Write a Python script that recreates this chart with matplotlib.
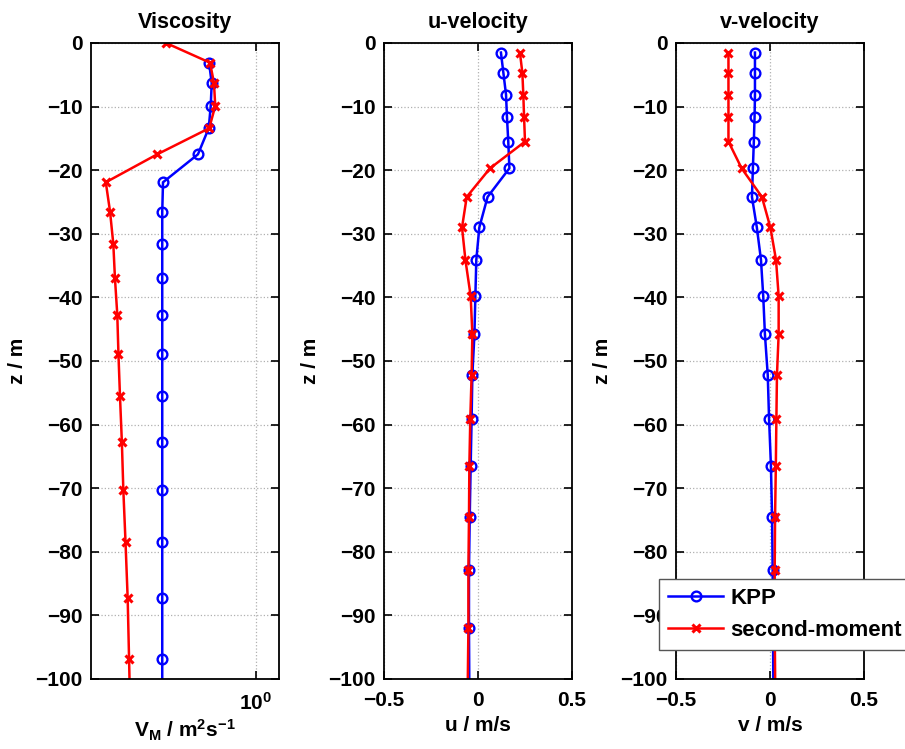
import numpy as np
import matplotlib
matplotlib.use("Agg")
import matplotlib.pyplot as plt
from matplotlib.ticker import FixedLocator, NullLocator, FixedFormatter

plt.rcParams['font.family'] = ['Liberation Sans', 'DejaVu Sans']
plt.rcParams['font.weight'] = 'bold'
plt.rcParams['axes.labelweight'] = 'bold'
plt.rcParams['axes.titleweight'] = 'bold'
plt.rcParams['font.size'] = 15
plt.rcParams['mathtext.fontset'] = 'custom'
plt.rcParams['mathtext.rm'] = 'Liberation Sans:bold'
plt.rcParams['mathtext.it'] = 'Liberation Sans:bold'
plt.rcParams['mathtext.bf'] = 'Liberation Sans:bold'
plt.rcParams['mathtext.default'] = 'rm'

# depths of the interfaces (viscosity) and cell centres (velocities)
z_face = [0.0, -3.1, -6.3, -9.9, -13.4, -17.5, -21.9, -26.5, -31.6, -36.9,
          -42.7, -48.9, -55.5, -62.7, -70.3, -78.5, -87.3, -96.9, -106.9]
z_cent = [-1.5, -4.7, -8.1, -11.6, -15.5, -19.7, -24.2, -29.0, -34.1, -39.8,
          -45.8, -52.2, -59.1, -66.5, -74.5, -82.9, -92.0, -102.0]

# viscosity, m^2/s
nu_kpp = [0.650, 0.666, 0.660, 0.648, 0.587, 0.426, 0.423, 0.423, 0.423,
          0.423, 0.423, 0.423, 0.423, 0.423, 0.423, 0.423, 0.423, 0.423]
nu_sm = [0.438, 0.656, 0.680, 0.688, 0.651, 0.404, 0.252, 0.262, 0.270, 0.274,
         0.280, 0.283, 0.287, 0.292, 0.296, 0.302, 0.308, 0.312, 0.316]

# u velocity, m/s
u_kpp = [0.122, 0.135, 0.149, 0.154, 0.161, 0.167, 0.051, 0.007, -0.009, -0.014,
         -0.019, -0.030, -0.034, -0.039, -0.044, -0.048, -0.048, -0.046]
u_sm = [0.223, 0.236, 0.241, 0.245, 0.250, 0.064, -0.060, -0.085, -0.067, -0.039,
        -0.030, -0.034, -0.041, -0.046, -0.048, -0.051, -0.051, -0.055]

# v velocity, m/s
v_kpp = [-0.080, -0.080, -0.080, -0.082, -0.086, -0.091, -0.096, -0.070, -0.048, -0.036,
         -0.027, -0.012, -0.005, 0.005, 0.011, 0.014, 0.016, 0.018]
v_sm = [-0.221, -0.221, -0.221, -0.221, -0.221, -0.151, -0.043, 0.002, 0.032, 0.046,
        0.046, 0.037, 0.034, 0.031, 0.027, 0.025, 0.025, 0.028]

fig = plt.figure(figsize=(9.05, 7.49), dpi=100)
W, H = 905.0, 749.0
lefts = [91, 384, 676]
axes = [fig.add_axes([l / W, 70 / H, 188 / W, 636 / H]) for l in lefts]

kpp_style = dict(color='#0000ff', lw=1.8, marker='o', ms=7, mfc='none', mew=1.7)
sm_style = dict(color='#ff0000', lw=1.8, marker='x', ms=5.5, mew=2.2)

ax1, ax2, ax3 = axes
ax1.plot(nu_kpp, z_face[1:], **kpp_style)
ax1.plot(nu_sm, z_face, **sm_style)
ax1.set_xscale('log')
ax1.set_xlim(0.22, 1.235)
ax1.xaxis.set_major_locator(FixedLocator([1.0]))
ax1.xaxis.set_major_formatter(FixedFormatter([r'$10^{0}$']))
ax1.xaxis.set_minor_locator(NullLocator())
ax1.set_title('Viscosity', pad=11, fontsize=15.5)
ax1.set_xlabel(r'$V_M$ / m$^2$s$^{-1}$', labelpad=3)

ax2.plot(u_kpp, z_cent, **kpp_style)
ax2.plot(u_sm, z_cent, **sm_style)
ax2.set_xlim(-0.5, 0.5)
ax2.set_title('u-velocity', pad=11, fontsize=15.5)
ax2.set_xlabel('u / m/s', labelpad=4)

l1, = ax3.plot(v_kpp, z_cent, **kpp_style)
l2, = ax3.plot(v_sm, z_cent, **sm_style)
ax3.set_xlim(-0.5, 0.5)
ax3.set_title('v-velocity', pad=11, fontsize=15.5)
ax3.set_xlabel('v / m/s', labelpad=4)

for ax in (ax2, ax3):
    ax.set_xticks([-0.5, 0, 0.5])
    ax.set_xticklabels(['\u22120.5', '0', '0.5'])

for ax in axes:
    ax.set_ylim(-100, 0)
    ax.set_yticks(np.arange(-100, 1, 10))
    ax.set_ylabel('z / m', labelpad=6)
    ax.grid(True, color='#b0b0b0', linestyle=':', linewidth=0.9)
    ax.tick_params(direction='in', top=True, right=True, length=6, width=1.2, labelsize=15)
    ax.tick_params(axis='y', pad=6)
    ax.tick_params(axis='x', pad=9)
    for lab in ax.get_xticklabels() + ax.get_yticklabels():
        lab.set_fontweight('bold')
    for s in ax.spines.values():
        s.set_linewidth(1.3)

leg = ax3.legend([l1, l2], ['KPP', 'second-moment'], loc='upper left',
                 bbox_to_anchor=(659 / W, 1 - 579 / H), bbox_transform=fig.transFigure,
                 fancybox=False, framealpha=1, edgecolor='#555555', handlelength=2.5,
                 handletextpad=0.3, prop={'weight': 'bold', 'size': 16},
                 borderpad=0.4, labelspacing=0.5, borderaxespad=0)
leg.get_frame().set_linewidth(1.0)

fig.savefig('out.png', dpi=100)
